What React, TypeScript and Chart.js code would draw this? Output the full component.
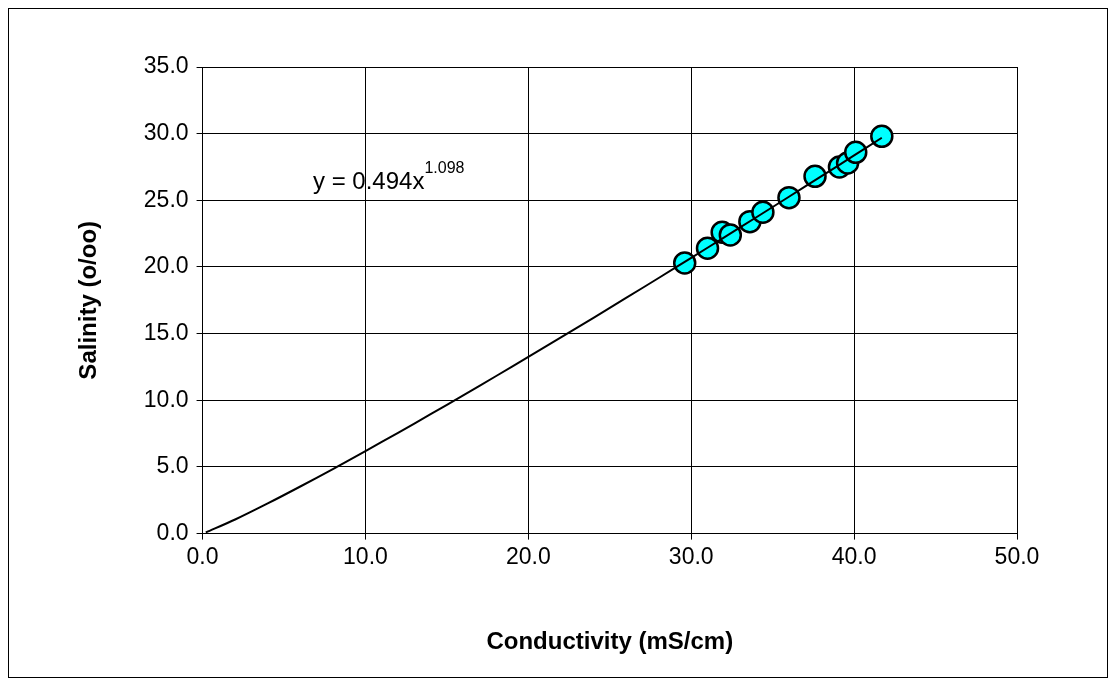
import { useRef, useEffect } from "react";
import { Chart, registerables } from "chart.js";

Chart.register(...registerables);

const conductivity = [29.6, 31.0, 31.9, 32.4, 33.6, 34.4, 36.0, 37.6, 39.1, 39.6, 40.1, 41.7];
const salinity = [20.3, 21.4, 22.6, 22.4, 23.4, 24.1, 25.2, 26.8, 27.5, 27.8, 28.6, 29.8];
const fitA = 0.494;
const fitB = 1.098;
const fitX = [0.2, 2, 4, 6, 8, 10, 12, 14, 16, 18, 20, 22, 24, 26, 28, 30, 32, 34, 36, 38, 40, 41.7];

const FONT = "'Liberation Sans', Arial, sans-serif";

const annotation = {
  id: "eqn",
  afterDatasetsDraw(chart: Chart) {
    const ctx = chart.ctx;
    ctx.save();
    ctx.fillStyle = "#000";
    ctx.textBaseline = "alphabetic";
    ctx.font = `24px ${FONT}`;
    const s = "y = 0.494x";
    ctx.fillText(s, 304, 180);
    const w = ctx.measureText(s).width;
    ctx.font = `16px ${FONT}`;
    ctx.fillText("1.098", 304 + w, 164);
    ctx.restore();
  },
};

export default function App() {
  const canvasRef = useRef<HTMLCanvasElement>(null);

  useEffect(() => {
    if (!canvasRef.current) return;
    const chart = new Chart(canvasRef.current, {
      type: "scatter",
      data: {
        datasets: [
          {
            type: "line",
            data: fitX.map((x) => ({ x, y: fitA * Math.pow(x, fitB) })),
            borderColor: "#000",
            borderWidth: 2,
            pointRadius: 0,
            tension: 0.3,
          },
          {
            data: conductivity.map((x, i) => ({ x, y: salinity[i] })),
            backgroundColor: "#00ffff",
            borderColor: "#000",
            borderWidth: 2.5,
            pointRadius: 10.5,
          },
        ],
      },
      options: {
        animation: false,
        responsive: false,
        layout: { padding: { left: 66, right: 90, top: 58, bottom: 20 } },
        plugins: { legend: { display: false }, tooltip: { enabled: false } },
        scales: {
          x: {
            min: 0,
            max: 50,
            ticks: { stepSize: 10, color: "#000", padding: 4, font: { family: FONT, size: 23 }, callback: (v) => Number(v).toFixed(1) },
            grid: { color: "#000", tickLength: 6 },
            border: { color: "#000" },
            title: { display: true, text: "Conductivity (mS/cm)", color: "#000", padding: { top: 53, bottom: 0 }, font: { family: FONT, size: 24, weight: "bold" } },
          },
          y: {
            min: 0,
            max: 35,
            ticks: { stepSize: 5, color: "#000", padding: 8, font: { family: FONT, size: 23 }, callback: (v) => Number(v).toFixed(1) },
            grid: { color: "#000", tickLength: 6 },
            border: { color: "#000" },
            title: { display: true, text: "Salinity (o/oo)", color: "#000", padding: { top: 0, bottom: 32 }, font: { family: FONT, size: 24, weight: "bold" } },
          },
        },
      },
      plugins: [annotation],
    });
    return () => chart.destroy();
  }, []);

  return (
    <div style={{ width: 1100, height: 670, border: "1px solid #000", boxSizing: "border-box" }}>
      <canvas ref={canvasRef} width={1098} height={668} />
    </div>
  );
}
